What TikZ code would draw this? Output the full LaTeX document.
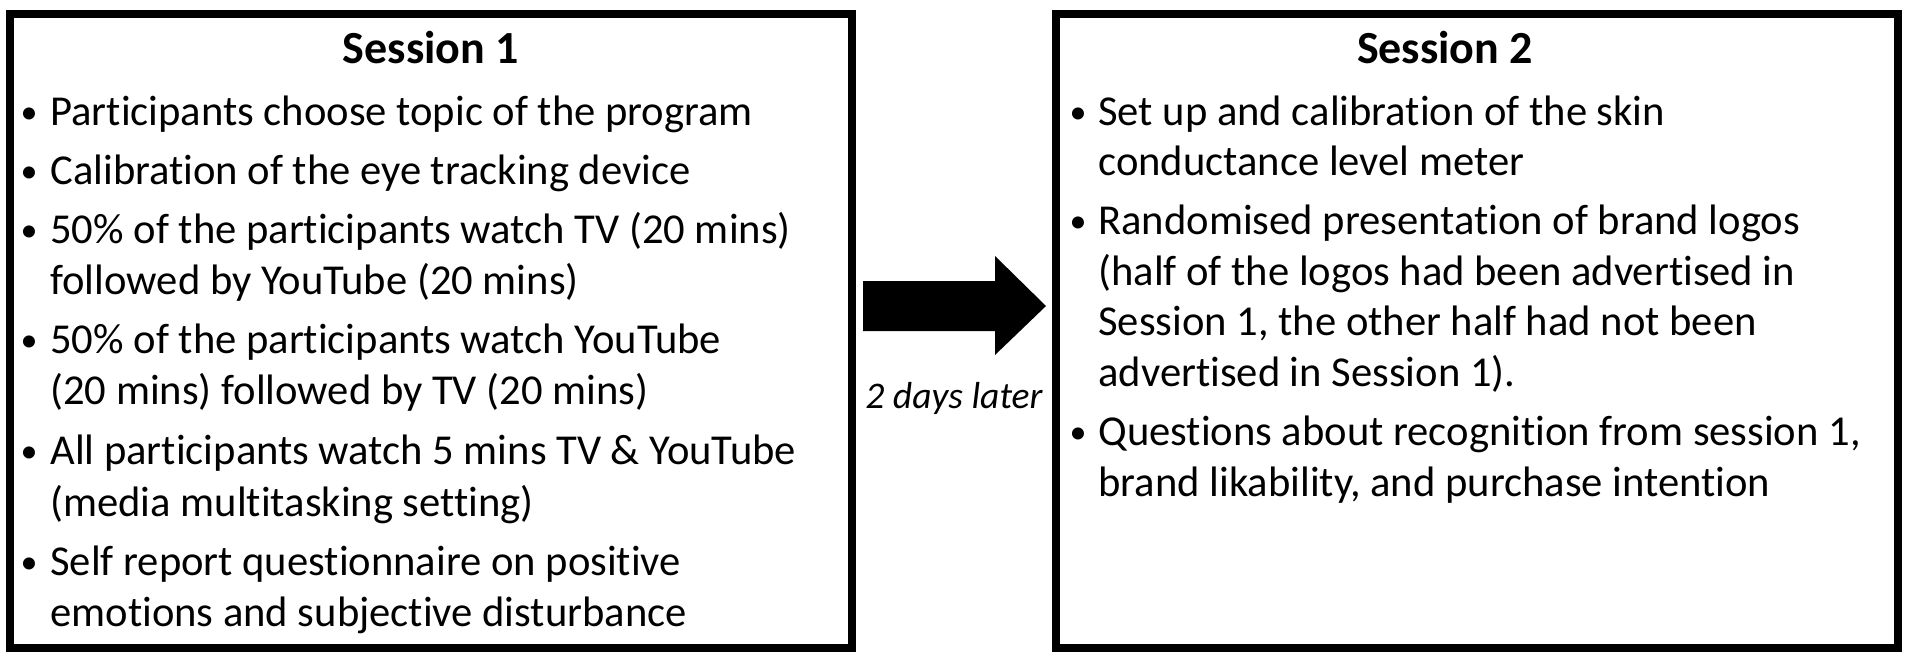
\documentclass[tikz,border=0pt]{standalone}
\usepackage{fontspec}
\setmainfont{Carlito}[Ligatures=NoCommon]
\begin{document}
\begin{tikzpicture}[x=0.5pt,y=-0.5pt,
  txt/.style={anchor=base west,inner sep=0pt,font=\fontsize{21.3}{25.5}\selectfont},
  bul/.style={anchor=base,inner sep=0pt,font=\fontsize{17}{20}\selectfont},
  ttl/.style={anchor=base,inner sep=0pt,font=\fontsize{23}{27}\selectfont\bfseries},
  lbl/.style={anchor=base,inner sep=0pt,font=\fontsize{18.8}{22}\selectfont\itshape},
  frame/.style={draw=black,line width=4pt},
  bigarrow/.style={fill=black}]
\useasboundingbox (0,0) rectangle (1905,654);
\fill[white] (0,0) rectangle (1905,654);
% boxes
\draw[frame] (10,14) rectangle (852,647.5);
\draw[frame] (1056,14) rectangle (1897.5,647.5);
% titles
\node[ttl] (t1) at (431,63) {Session 1};
\node[ttl] (t2) at (1445,63) {Session 2};
% left box
\node[bul] (lb1) at (29,123) {•};
\node[txt] (l1) at (50,125) {Participants choose topic of the program};
\node[bul] (lb2) at (29,182) {•};
\node[txt] (l2) at (50,184) {Calibration of the eye tracking device};
\node[bul] (lb3) at (29,241) {•};
\node[txt] (l3) at (50,243) {50\% of the participants watch TV (20 mins)};
\node[txt] (l4) at (50,294) {followed by YouTube (20 mins)};
\node[bul] (lb5) at (29,351) {•};
\node[txt] (l5) at (50,353) {50\% of the participants watch YouTube};
\node[txt] (l6) at (50,404) {(20 mins) followed by TV (20 mins)};
\node[bul] (lb7) at (29,462) {•};
\node[txt] (l7) at (50,464) {All participants watch 5 mins TV \& YouTube};
\node[txt] (l8) at (50,516) {(media multitasking setting)};
\node[bul] (lb9) at (29,573) {•};
\node[txt] (l9) at (50,575) {Self report questionnaire on positive};
\node[txt] (l10) at (50,626) {emotions and subjective disturbance};
% right box
\node[bul] (rb1) at (1078,123) {•};
\node[txt] (r1) at (1098,125) {Set up and calibration of the skin};
\node[txt] (r2) at (1098,175) {conductance level meter};
\node[bul] (rb3) at (1078,232) {•};
\node[txt] (r3) at (1098,234) {Randomised presentation of brand logos};
\node[txt] (r4) at (1098,285) {(half of the logos had been advertised in};
\node[txt] (r5) at (1098,335) {Session 1, the other half had not been};
\node[txt] (r6) at (1098,386) {advertised in Session 1).};
\node[bul] (rb7) at (1078,443) {•};
\node[txt] (r7) at (1098,445) {Questions about recognition from session 1,};
\node[txt] (r8) at (1098,496) {brand likability, and purchase intention};
% arrow
\fill[bigarrow] (863,281) -- (995,281) -- (995,256) -- (1046,306) -- (995,355) -- (995,331) -- (863,331) -- cycle;
\node[lbl] (later) at (954,408) {2 days later};
\end{tikzpicture}
\end{document}
